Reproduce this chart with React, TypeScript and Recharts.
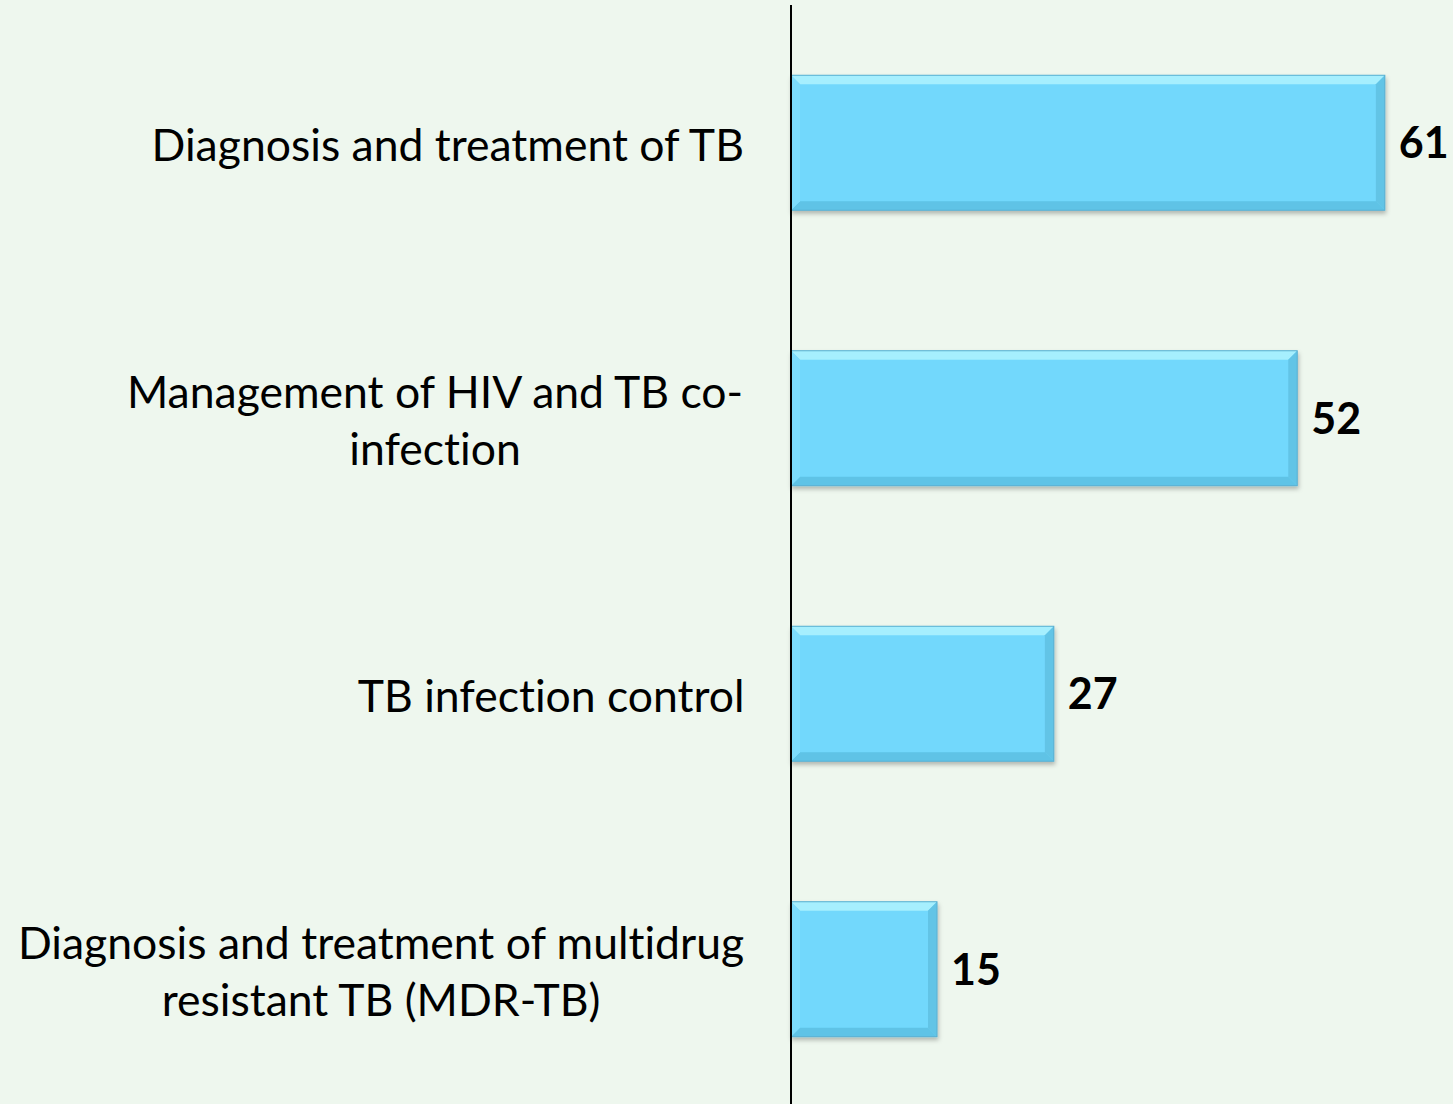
import React from 'react';
import { BarChart, Bar, XAxis, YAxis, LabelList } from 'recharts';

const categories = [
  ['Diagnosis and treatment of TB'],
  ['Management of HIV and TB co-', 'infection'],
  ['TB infection control'],
  ['Diagnosis and treatment of multidrug', 'resistant TB (MDR-TB)'],
];
const values = [61, 52, 27, 15];

const data = categories.map((lines, i) => ({ name: lines.join(' '), lines, value: values[i] }));

const FONT = 'Lato, "Open Sans", sans-serif';
const LABEL_SIZE = 44.5;
const LINE_H = 57;

let ctx: CanvasRenderingContext2D | null = null;
const measure = (s: string) => {
  if (!ctx) ctx = document.createElement('canvas').getContext('2d');
  if (!ctx) return s.length * LABEL_SIZE * 0.45;
  ctx.font = `${LABEL_SIZE}px ${FONT}`;
  return ctx.measureText(s).width;
};

const CategoryTick = (props: any) => {
  const { x, y, payload } = props;
  const lines: string[] = categories.find((c) => c.join(' ') === payload.value) || [payload.value];
  const w = Math.max(...lines.map(measure));
  const cx = x - w / 2;
  const top = y - ((lines.length - 1) * LINE_H) / 2;
  return (
    <text
      x={cx}
      y={top}
      textAnchor="middle"
      dominantBaseline="central"
      fontFamily={FONT}
      fontSize={LABEL_SIZE}
      fill="#000"
      style={{ fontVariantLigatures: 'none' }}
    >
      {lines.map((l, i) => (
        <tspan key={i} x={cx} y={top + i * LINE_H}>{l}</tspan>
      ))}
    </text>
  );
};

const BevelBar = (props: any) => {
  const { x, y, width, height } = props;
  const b = 9;
  const x2 = x + width;
  const y2 = y + height;
  return (
    <g filter="url(#barShadow)">
      <rect x={x} y={y} width={width} height={height} fill="#72d8fc" />
      <polygon points={`${x},${y} ${x2},${y} ${x2 - b},${y + b} ${x + b},${y + b}`} fill="#a6effe" />
      <polygon points={`${x},${y2} ${x2},${y2} ${x2 - b},${y2 - b} ${x + b},${y2 - b}`} fill="#5ec3e6" />
      <polygon points={`${x2},${y} ${x2},${y2} ${x2 - b},${y2 - b} ${x2 - b},${y + b}`} fill="#62c4e6" />
      <polygon points={`${x},${y} ${x},${y2} ${x + b},${y2 - b} ${x + b},${y + b}`} fill="#7ddcfc" />
      <rect x={x} y={y} width={width} height={height} fill="none" stroke="#5aaed0" strokeWidth={1} />
    </g>
  );
};

export default function App() {
  return (
    <div style={{ position: 'absolute', left: 0, top: 0, width: 1453, height: 1104, background: '#eef7ee' }}>
      <BarChart
        width={1453}
        height={1104}
        data={data}
        layout="vertical"
        barCategoryGap="25.5%"
        margin={{ top: 5, right: 0, bottom: -3, left: 0 }}
      >
        <defs>
          <filter id="barShadow" x="-5%" y="-10%" width="110%" height="125%">
            <feDropShadow dx="1" dy="3" stdDeviation="2" floodColor="#000" floodOpacity="0.25" />
          </filter>
        </defs>
        <XAxis type="number" domain={[0, 68]} hide />
        <YAxis
          type="category"
          dataKey="name"
          width={791}
          tickSize={0}
          tickMargin={46}
          tickLine={false}
          axisLine={{ stroke: '#000', strokeWidth: 2 }}
          tick={<CategoryTick />}
          interval={0}
        />
        <Bar dataKey="value" shape={<BevelBar />} isAnimationActive={false}>
          <LabelList
            dataKey="value"
            position="right"
            offset={14}
            fill="#000"
            fontFamily={FONT}
            fontWeight="bold"
            fontSize={43}
          />
        </Bar>
      </BarChart>
    </div>
  );
}
